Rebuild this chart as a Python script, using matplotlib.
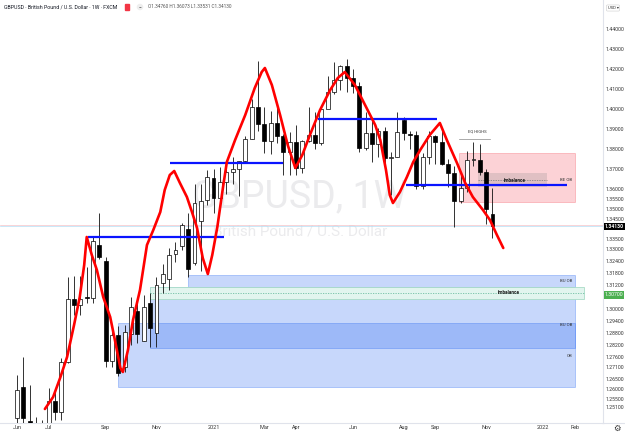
import matplotlib.pyplot as plt
from matplotlib.patches import Rectangle
from matplotlib.lines import Line2D
from matplotlib.transforms import blended_transform_factory

plt.rcParams['font.family'] = ['Roboto', 'DejaVu Sans']

# weekly GBPUSD candles, index 0 = week of 1 Jun 2020
opens = [1.2455, 1.2610, 1.2440, 1.2380, 1.2340, 1.2420, 1.2540, 1.2485, 1.2735, 1.3050,
         1.3020, 1.3060, 1.3055, 1.3320, 1.3240, 1.2740, 1.2870, 1.2710, 1.2875, 1.2990,
         1.2840, 1.3030, 1.2880, 1.3130, 1.3150, 1.3275, 1.3315, 1.3400, 1.3230, 1.3440,
         1.3545, 1.3655, 1.3555, 1.3635, 1.3685, 1.3700, 1.3740, 1.3850, 1.4010, 1.3925,
         1.3840, 1.3930, 1.3865, 1.3785, 1.3835, 1.3705, 1.3840, 1.3870, 1.3830, 1.4000,
         1.4085, 1.4145, 1.4215, 1.4155, 1.4115, 1.3805, 1.3880, 1.3825, 1.3890, 1.3755,
         1.3760, 1.3945, 1.3875, 1.3870, 1.3615, 1.3760, 1.3865, 1.3835, 1.3725, 1.3680,
         1.3540, 1.3605, 1.3745, 1.3745, 1.3685, 1.3476]
highs = [1.2670, 1.2760, 1.2620, 1.2460, 1.2445, 1.2605, 1.2605, 1.2755, 1.3160, 1.3165,
         1.3165, 1.3210, 1.3360, 1.3480, 1.3260, 1.2890, 1.2915, 1.2920, 1.3060, 1.3045,
         1.3070, 1.3080, 1.3160, 1.3225, 1.3305, 1.3335, 1.3430, 1.3480, 1.3625, 1.3625,
         1.3695, 1.3700, 1.3710, 1.3745, 1.3760, 1.3740, 1.3865, 1.4050, 1.4241, 1.4010,
         1.3990, 1.4018, 1.3875, 1.3885, 1.3920, 1.3845, 1.4010, 1.3985, 1.4005, 1.4165,
         1.4235, 1.4220, 1.4250, 1.4200, 1.4135, 1.3985, 1.3955, 1.3905, 1.3910, 1.3785,
         1.3985, 1.3960, 1.3890, 1.3890, 1.3780, 1.3890, 1.3870, 1.3910, 1.3750, 1.3715,
         1.3675, 1.3790, 1.3835, 1.3825, 1.3700, 1.3607]
lows = [1.2400, 1.2400, 1.2300, 1.2300, 1.2260, 1.2405, 1.2445, 1.2445, 1.2730, 1.2970,
        1.2970, 1.3030, 1.3030, 1.3250, 1.2710, 1.2710, 1.2665, 1.2685, 1.2820, 1.2830,
        1.2840, 1.2810, 1.2810, 1.3080, 1.3095, 1.3235, 1.3295, 1.3160, 1.3220, 1.3190,
        1.3520, 1.3480, 1.3520, 1.3575, 1.3625, 1.3565, 1.3730, 1.3850, 1.3890, 1.3780,
        1.3775, 1.3830, 1.3670, 1.3670, 1.3670, 1.3680, 1.3835, 1.3800, 1.3820, 1.4005,
        1.4075, 1.4095, 1.4085, 1.4080, 1.3785, 1.3795, 1.3735, 1.3760, 1.3730, 1.3570,
        1.3760, 1.3845, 1.3800, 1.3600, 1.3600, 1.3725, 1.3725, 1.3720, 1.3610, 1.3410,
        1.3530, 1.3585, 1.3715, 1.3670, 1.3425, 1.3353]
closes = [1.2595, 1.2455, 1.2340, 1.2340, 1.2420, 1.2540, 1.2485, 1.2735, 1.3050, 1.3020,
          1.3050, 1.3055, 1.3340, 1.3260, 1.2740, 1.2870, 1.2680, 1.2885, 1.3010, 1.2875,
          1.3010, 1.2905, 1.3120, 1.3175, 1.3270, 1.3295, 1.3420, 1.3200, 1.3530, 1.3540,
          1.3660, 1.3555, 1.3635, 1.3685, 1.3700, 1.3740, 1.3850, 1.4010, 1.3925, 1.3840,
          1.3930, 1.3865, 1.3785, 1.3835, 1.3705, 1.3840, 1.3870, 1.3830, 1.4000, 1.4085,
          1.4145, 1.4215, 1.4155, 1.4115, 1.3805, 1.3880, 1.3825, 1.3890, 1.3755, 1.3760,
          1.3885, 1.3880, 1.3870, 1.3615, 1.3760, 1.3865, 1.3835, 1.3725, 1.3680, 1.3540,
          1.3605, 1.3745, 1.3745, 1.3685, 1.3500, 1.3413]

# swing line drawn on the chart (week index, price)
swing_x = [4.4, 5.7, 6.8, 7.9, 9.0, 9.9, 10.6, 11.0, 11.8, 12.6, 13.6, 14.7, 15.6, 16.3, 16.7,
           17.5, 18.3, 19.4, 20.5, 21.5, 22.6, 23.3, 24.1, 24.8, 25.7, 26.8, 27.6, 28.4, 29.3,
           30.1, 30.8, 31.6, 32.5, 33.1, 34.4, 36.0, 37.5, 38.6, 39.1, 40.2, 41.5, 42.7, 43.9,
           45.0, 46.2, 47.8, 49.4, 50.6, 51.7, 53.3, 54.9, 56.5, 57.3, 58.2, 58.8, 59.3, 60.4,
           61.5, 62.5, 63.6, 65.1, 66.7, 67.8, 69.4, 70.7, 71.9, 73.5, 74.6, 75.7, 76.7]
swing_y = [1.2500, 1.2560, 1.2655, 1.2760, 1.2920, 1.3060, 1.3220, 1.3360, 1.3270, 1.3195,
           1.3060, 1.2960, 1.2820, 1.2705, 1.2685, 1.2795, 1.2945, 1.3095, 1.3320, 1.3395,
           1.3485, 1.3595, 1.3670, 1.3690, 1.3630, 1.3560, 1.3485, 1.3405, 1.3255, 1.3175,
           1.3270, 1.3410, 1.3610, 1.3735, 1.3845, 1.3970, 1.4105, 1.4185, 1.4205, 1.4120,
           1.3970, 1.3820, 1.3705, 1.3770, 1.3870, 1.3995, 1.4095, 1.4155, 1.4185, 1.4120,
           1.4020, 1.3920, 1.3845, 1.3695, 1.3570, 1.3530, 1.3585, 1.3660, 1.3735, 1.3795,
           1.3870, 1.3930, 1.3845, 1.3730, 1.3630, 1.3560, 1.3495, 1.3445, 1.3370, 1.3305]

# horizontal structure levels: start week, end week, price
level_start = [11.2, 24.1, 47.5, 61.4]
level_end = [32.6, 42.0, 66.2, 86.8]
level_price = [1.3362, 1.3728, 1.3950, 1.3620]

# demand zones: left week, right week, top, bottom, label
zone_left = [27.0, 21.0, 16.0]
zone_right = [88.0, 88.0, 88.0]
zone_top = [1.3170, 1.3110, 1.2930]
zone_bottom = [1.3110, 1.2805, 1.2610]
zone_label = ['BU OB', 'BU OB', 'OB']
zone_label_y = [1.3140, 1.2920, 1.2765]

month_pos = [0, 5, 14, 22, 31, 39, 44, 53, 61, 66, 74, 83, 88]
month_lbl = ['Jun', 'Jul', 'Sep', 'Nov', '2021', 'Mar', 'Apr', 'Jun', 'Aug', 'Sep',
             'Nov', '2022', 'Feb']
price_ticks = [1.44, 1.43, 1.42, 1.41, 1.40, 1.39, 1.38, 1.37, 1.36, 1.355, 1.35, 1.345,
               1.335, 1.33, 1.324, 1.318, 1.312, 1.300, 1.294, 1.288, 1.282, 1.276, 1.271,
               1.265, 1.260, 1.255, 1.251]

last_price = 1.3413
marker_price = 1.3070

fig = plt.figure(figsize=(6.25, 4.34), dpi=100)
ax = fig.add_axes([0, 11 / 434, 603 / 625, 423 / 434])
ax.set_xlim(-2.68, 92.43)
ax.set_ylim(1.243, 1.4545)

# watermark
ax.text(0.497, 0.534, 'GBPUSD, 1W', transform=ax.transAxes, ha='center', va='center',
        fontsize=27, color='#ebebed', zorder=0)
ax.text(0.497, 0.452, 'British Pound / U.S. Dollar', transform=ax.transAxes, ha='center',
        va='center', fontsize=11, color='#ebebed', zorder=0)

# price lines
ax.axhline(1.3420, color='#f6c4c8', lw=0.5, zorder=1)
ax.axhline(last_price, color='#b5dff5', lw=0.5, zorder=1)

# demand zones
blue = (0.13, 0.39, 0.95, 0.25)
for l, r, t, b in zip(zone_left, zone_right, zone_top, zone_bottom):
    ax.add_patch(Rectangle((l, b), r - l, t - b, facecolor=blue,
                           edgecolor=(0.13, 0.39, 0.95, 0.35), lw=0.6, zorder=1))
for lbl, y in zip(zone_label, zone_label_y):
    ax.text(87.6, y, lbl, ha='right', va='center', fontsize=3.2, color='#333', zorder=5)

# imbalance below
ax.add_patch(Rectangle((21.0, 1.3050), 68.5, 0.0060, facecolor='#e2f5ee',
                       edgecolor='#a9dcc7', lw=0.6, zorder=2))
ax.plot([21.0, 89.5], [1.3080, 1.3080], color='#6fbfa2', lw=0.6, ls=(0, (1.5, 1.5)), zorder=2)
ax.text(77.5, 1.3080, 'Imbalance', ha='center', va='center', fontsize=3.4,
        fontweight='bold', color='#222', zorder=5)

# supply zone
ax.add_patch(Rectangle((69.7, 1.3535), 18.3, 0.0245, facecolor=(0.95, 0.21, 0.27, 0.22),
                       edgecolor=(0.95, 0.21, 0.27, 0.3), lw=0.6, zorder=1))
ax.text(87.6, 1.3645, 'BE OB', ha='right', va='center', fontsize=3.2, color='#333', zorder=5)
ax.add_patch(Rectangle((72.7, 1.3610), 10.9, 0.0070, facecolor=(0.5, 0.5, 0.5, 0.22),
                       edgecolor='none', zorder=2))
ax.plot([72.7, 83.6], [1.3645, 1.3645], color='#777', lw=0.5, ls=(0, (2, 1.5)), zorder=2)
ax.text(78.5, 1.3640, 'Imbalance', ha='center', va='center', fontsize=3.4,
        fontweight='bold', color='#222', zorder=5)
ax.plot([69.7, 74.6], [1.3850, 1.3850], color='#888', lw=0.5, zorder=2)
ax.text(72.6, 1.3875, 'EQ HIGHS', ha='center', va='bottom', fontsize=3.0, color='#333', zorder=5)

# candles
idx = list(range(len(opens)))
ax.vlines(idx, lows, highs, color='#111', lw=0.6, zorder=3)
bottoms = [min(o, c) for o, c in zip(opens, closes)]
heights = [max(abs(c - o), 0.0004) for o, c in zip(opens, closes)]
colors = ['white' if c >= o else 'black' for o, c in zip(opens, closes)]
ax.bar(idx, heights, bottom=bottoms, width=0.62, color=colors, edgecolor='black',
       lw=0.5, zorder=4)

# levels and swing line
ax.hlines(level_price, level_start, level_end, color='#0a14ff', lw=1.6, zorder=6)
ax.plot(swing_x, swing_y, color='#ff0000', lw=1.9, solid_joinstyle='round',
        solid_capstyle='round', zorder=7)

# axes styling
for s in ['top', 'left']:
    ax.spines[s].set_visible(False)
for s in ['right', 'bottom']:
    ax.spines[s].set_color('#e0e3eb')
    ax.spines[s].set_linewidth(0.8)
ax.yaxis.tick_right()
ax.set_yticks(price_ticks)
ax.set_yticklabels(['%.5f' % p for p in price_ticks])
ax.tick_params(axis='y', length=0, pad=1.6, labelsize=3.7, labelcolor='#333')
ax.set_xticks(month_pos)
ax.set_xticklabels(month_lbl)
ax.tick_params(axis='x', length=0, pad=1.6, labelsize=4.0, labelcolor='#333')

tr = blended_transform_factory(ax.transAxes, ax.transData)
ax.text(1.003, last_price, '%.5f' % last_price, transform=tr, ha='left', va='center',
        fontsize=3.7, color='white', fontweight='bold',
        bbox=dict(boxstyle='square,pad=0.2', fc='black', ec='none'), zorder=10)
ax.text(1.003, marker_price, '%.5f' % marker_price, transform=tr, ha='left', va='center',
        fontsize=3.7, color='white',
        bbox=dict(boxstyle='square,pad=0.2', fc='#4caf50', ec='none'), zorder=10)

fig.add_artist(Line2D([603 / 625, 1], [11 / 434, 11 / 434], transform=fig.transFigure,
                      color='#e0e3eb', lw=0.8))
fig.text(613 / 625, 1 - 8 / 434, 'USD \u25be', ha='center', va='center', fontsize=3.0,
         color='#333', bbox=dict(boxstyle='round,pad=0.25', fc='white', ec='#ccc', lw=0.4))
fig.text(617 / 625, 5.5 / 434, '\u2699', ha='center', va='center', fontsize=6, color='#333',
         family='DejaVu Sans')

# header
fig.text(4 / 625, 1 - 7 / 434, 'GBPUSD \u00b7 British Pound / U.S. Dollar \u00b7 1W \u00b7 FXCM',
         ha='left', va='center', fontsize=3.8, color='#131722')
fig.patches.append(Rectangle((125 / 625, 1 - 9.5 / 434), 4 / 625, 5 / 434,
                             transform=fig.transFigure, color='#f23645', figure=fig))
fig.text(140 / 625, 1 - 7 / 434, '\u2212', ha='center', va='center', fontsize=3.6, color='#333',
         bbox=dict(boxstyle='circle,pad=0.15', fc='#eee', ec='none'))
fig.text(148 / 625, 1 - 7 / 434, 'O1.34760 H1.36073 L1.33531 C1.34130', ha='left',
         va='center', fontsize=3.4, color='#555')

fig.savefig('out.png', dpi=100)
